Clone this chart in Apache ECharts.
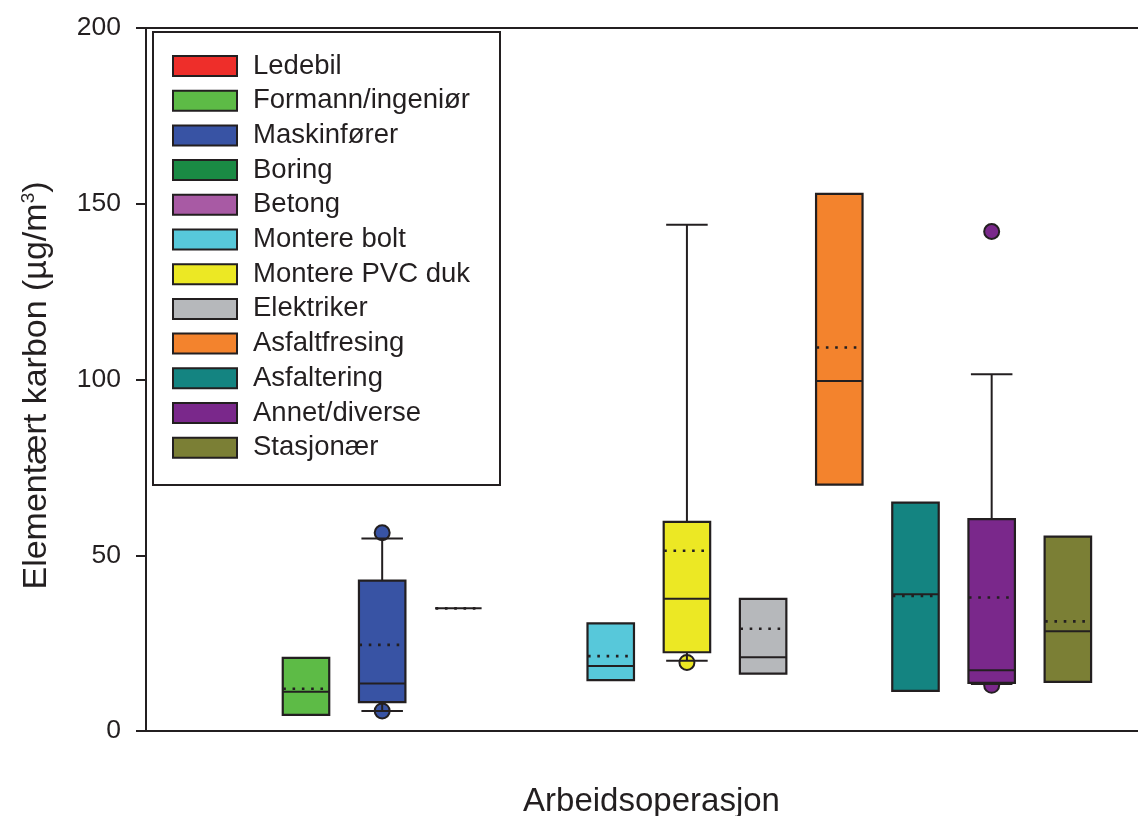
<!DOCTYPE html>
<html>
<head>
<meta charset="utf-8">
<script src="https://cdn.jsdelivr.net/npm/echarts@6/dist/echarts.min.js"></script>
<style>html,body{margin:0;padding:0;background:#fff}#c{width:1138px;height:816px}</style>
</head>
<body>
<div id="c"></div>
<script>
// ---- data ----
const categories = ['Ledebil','Formann/ingeniør','Maskinfører','Boring','Betong','Montere bolt','Montere PVC duk','Elektriker','Asfaltfresing','Asfaltering','Annet/diverse','Stasjonær'];
const colors = ['#EE2E2A','#5DBB46','#3853A4','#1A8A44','#A85AA4','#57C8DA','#ECE824','#B6B8BB','#F3832D','#148481','#7A288B','#7B7F35'];
const whiskerLow  = [null, null, 5.7, null, null, null, 20.0, null, null, null, 13.4, null];
const q1          = [null, 4.6, 8.2, 34.9, null, 14.5, 22.4, 16.3, 70.1, 11.4, 13.7, 14.0];
const median      = [null, 11.2, 13.5, 34.9, null, 18.5, 37.6, 21.0, 99.6, 38.9, 17.3, 28.4];
const q3          = [null, 20.8, 42.8, 34.9, null, 30.6, 59.5, 37.6, 152.8, 65.0, 60.3, 55.3];
const whiskerHigh = [null, null, 54.8, null, null, null, 144.0, null, null, null, 101.5, null];
const mean        = [null, 12.0, 24.5, 34.9, null, 21.3, 51.3, 29.1, 109.1, 38.4, 38.0, 31.2];
const outliers    = [[], [], [5.7, 56.4], [], [], [], [19.5], [], [], [], [13.0, 142.1], []];
const yTicks = [0, 50, 100, 150, 200];

// ---- style ----
const INK = '#231F20';
const FONT = '"Liberation Sans", Arial, Helvetica, sans-serif';
const BOX_FRAC = 0.61, CAP_FRAC = 0.545;
const X_MIN = -1.1, X_MAX = 12.17;

function renderBox(params, api) {
  const x = api.value(0);
  const lo = api.value(1), a = api.value(2), med = api.value(3), b = api.value(4), hi = api.value(5), mn = api.value(6);
  const unit = api.size([1, 0])[0];
  const bw = unit * BOX_FRAC, cw = unit * CAP_FRAC;
  const pA = api.coord([x, a]), pB = api.coord([x, b]);
  const cx = pA[0];
  const color = api.visual('color');
  const ch = [];
  const ls = {stroke: INK, lineWidth: 2};
  if (hi != null && !isNaN(hi)) {
    const p = api.coord([x, hi]);
    ch.push({type: 'line', shape: {x1: cx, y1: pB[1], x2: cx, y2: p[1]}, style: ls});
    ch.push({type: 'line', shape: {x1: cx - cw / 2, y1: p[1], x2: cx + cw / 2, y2: p[1]}, style: ls});
  }
  if (lo != null && !isNaN(lo)) {
    const p = api.coord([x, lo]);
    ch.push({type: 'line', shape: {x1: cx, y1: pA[1], x2: cx, y2: p[1]}, style: ls});
    ch.push({type: 'line', shape: {x1: cx - cw / 2, y1: p[1], x2: cx + cw / 2, y2: p[1]}, style: ls});
  }
  if (Math.abs(pA[1] - pB[1]) > 0.5) {
    ch.push({type: 'rect', shape: {x: cx - bw / 2, y: pB[1], width: bw, height: pA[1] - pB[1]},
      style: {fill: color, stroke: INK, lineWidth: 2.2}});
  }
  const pm = api.coord([x, med]);
  ch.push({type: 'line', shape: {x1: cx - bw / 2, y1: pm[1], x2: cx + bw / 2, y2: pm[1]}, style: ls});
  const pmean = api.coord([x, mn]);
  ch.push({type: 'line', shape: {x1: cx - bw / 2 + 0.5, y1: pmean[1], x2: cx + bw / 2, y2: pmean[1]},
    style: {stroke: INK, lineWidth: 2.6, lineDash: [2.6, 6.7], lineCap: 'butt'}});
  return {type: 'group', children: ch};
}

const series = categories.map((name, i) => ({
  name: name,
  type: 'custom',
  z: 3,
  itemStyle: {color: colors[i]},
  renderItem: renderBox,
  encode: {x: 0, y: [1, 2, 3, 4, 5, 6]},
  data: q1[i] == null ? [] : [[i, whiskerLow[i], q1[i], median[i], q3[i], whiskerHigh[i], mean[i]]]
}));

const outlierData = [];
outliers.forEach((arr, i) => arr.forEach(v => outlierData.push({value: [i, v], itemStyle: {color: colors[i]}})));
series.push({
  name: 'outliers',
  type: 'scatter',
  z: 1,
  symbol: 'circle',
  symbolSize: 15,
  itemStyle: {borderColor: INK, borderWidth: 2, opacity: 1},
  emphasis: {disabled: true},
  data: outlierData
});

const chart = echarts.init(document.getElementById('c'), null, {renderer: 'canvas'});
chart.setOption({
  animation: false,
  backgroundColor: '#fff',
  textStyle: {fontFamily: FONT, color: INK},
  grid: {left: 146, top: 28, width: 1011, height: 703, outerBoundsMode: 'none', containLabel: false},
  graphic: [{
    type: 'rect', z: 5, left: 152, top: 31,
    shape: {x: 0, y: 0, width: 347, height: 453},
    style: {fill: '#fff', stroke: INK, lineWidth: 2}
  }],
  legend: {
    orient: 'vertical', left: 172, top: 51, z: 10,
    padding: 0,
    itemWidth: 64, itemHeight: 20, itemGap: 4.7,
    selectedMode: false,
    icon: 'rect',
    textStyle: {fontFamily: FONT, fontSize: 27.5, color: INK, lineHeight: 30, padding: [0, 0, 0, 11]},
    data: categories.map((n, i) => ({name: n, itemStyle: {color: colors[i], borderColor: INK, borderWidth: 2}}))
  },
  xAxis: [{
    type: 'value', min: X_MIN, max: X_MAX, position: 'bottom',
    name: 'Arbeidsoperasjon', nameLocation: 'middle', nameGap: 54,
    nameTextStyle: {fontFamily: FONT, fontSize: 33, color: INK},
    axisLine: {show: true, onZero: false, lineStyle: {color: INK, width: 2}},
    axisTick: {show: false}, axisLabel: {show: false}, splitLine: {show: false}
  }, {
    type: 'value', min: X_MIN, max: X_MAX, position: 'top',
    axisLine: {show: true, onZero: false, lineStyle: {color: INK, width: 2}},
    axisTick: {show: false}, axisLabel: {show: false}, splitLine: {show: false}
  }],
  yAxis: {
    type: 'value', min: yTicks[0], max: yTicks[yTicks.length - 1], interval: 50,
    name: 'Elementært karbon (µg/m{sup|3})', nameLocation: 'middle', nameGap: 92,
    nameTextStyle: {fontFamily: FONT, fontSize: 34, color: INK, padding: [0, 12, 0, 0],
      rich: {sup: {fontFamily: FONT, fontSize: 19, color: INK, verticalAlign: 'bottom', padding: [0, 0, 16, 0]}}},
    axisLine: {show: true, onZero: false, lineStyle: {color: INK, width: 2}},
    axisTick: {show: true, inside: false, length: 10, lineStyle: {color: INK, width: 2}},
    axisLabel: {fontFamily: FONT, fontSize: 26.5, color: INK, margin: 25,
      formatter: v => yTicks.includes(v) ? String(v) : ''},
    splitLine: {show: false}
  },
  series: series
});
</script>
</body>
</html>
